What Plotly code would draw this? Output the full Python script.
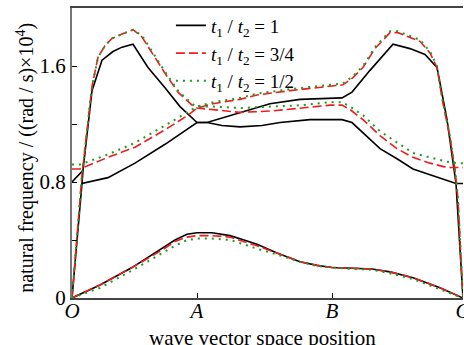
import plotly.graph_objects as go

# path coordinate along the wave-vector path (O -> A -> B -> C)
tick_pos = [0, 125, 260, 390.6]
tick_lab = ["<i>O</i>", "<i>A</i>", "<i>B</i>", "<i>C</i>"]

# ---- t1/t2 = 1 (black) ----
k_b1 = [0, 28, 60, 90, 103, 115, 125, 140, 158, 172, 185, 205, 228, 245, 260, 280, 300, 318, 341, 368, 391]
f_b1 = [0, 0.09, 0.21, 0.34, 0.40, 0.44, 0.45, 0.45, 0.43, 0.40, 0.37, 0.31, 0.25, 0.225, 0.21, 0.205, 0.20, 0.18, 0.14, 0.07, 0]

k_b2 = [0, 10, 36, 63, 93, 125, 135, 168, 198, 228, 258, 270, 280, 298, 321, 338, 353, 365, 375, 384, 391]
f_b2 = [0, 0.79, 0.83, 0.93, 1.06, 1.21, 1.21, 1.28, 1.34, 1.37, 1.38, 1.38, 1.42, 1.57, 1.75, 1.72, 1.68, 1.59, 1.23, 0.79, 0]

k_b3 = [0, 11, 20, 30, 41, 50, 61, 76, 93, 108, 125, 135, 150, 168, 190, 208, 238, 258, 270, 280, 291, 308, 325, 341, 358, 378, 384, 391]
f_b3 = [0.80, 0.88, 1.43, 1.64, 1.70, 1.73, 1.75, 1.59, 1.45, 1.32, 1.21, 1.21, 1.19, 1.18, 1.19, 1.21, 1.23, 1.23, 1.23, 1.21, 1.14, 1.03, 0.96, 0.89, 0.85, 0.80, 0.79, 0.79]

k_b4 = [10, 11]
f_b4 = [0.79, 0.88]

# ---- t1/t2 = 3/4 (red) ----
k_r1 = k_b1
f_r1 = [0, 0.09, 0.21, 0.33, 0.39, 0.42, 0.43, 0.43, 0.42, 0.39, 0.36, 0.31, 0.25, 0.225, 0.21, 0.205, 0.20, 0.18, 0.14, 0.07, 0]

k_r2 = [0, 10, 20, 26, 33, 40, 50, 61, 70, 83, 93, 106, 120, 125, 141, 168, 200, 230, 258, 270, 278, 291, 308, 325, 341, 358, 375, 385, 391]
f_r2 = [0, 0.85, 1.46, 1.66, 1.74, 1.79, 1.82, 1.85, 1.80, 1.66, 1.55, 1.42, 1.33, 1.31, 1.30, 1.28, 1.29, 1.31, 1.33, 1.33, 1.30, 1.23, 1.12, 1.03, 0.97, 0.93, 0.90, 0.90, 0.90]

k_r3 = [0, 8, 36, 63, 93, 116, 125, 141, 168, 185, 218, 258, 271, 281, 291, 303, 318, 326, 348, 358, 365, 371, 378, 383, 386, 391]
f_r3 = [0.89, 0.89, 0.97, 1.04, 1.16, 1.26, 1.31, 1.34, 1.37, 1.40, 1.43, 1.46, 1.47, 1.52, 1.59, 1.72, 1.83, 1.83, 1.77, 1.69, 1.59, 1.34, 1.11, 0.88, 0.68, 0]

# ---- t1/t2 = 1/2 (green) ----
k_g1 = k_b1
f_g1 = [0, 0.07, 0.19, 0.31, 0.36, 0.40, 0.41, 0.41, 0.40, 0.37, 0.34, 0.30, 0.25, 0.22, 0.21, 0.20, 0.195, 0.17, 0.13, 0.06, 0]

k_g2 = k_r2
f_g2 = [0, 0.85, 1.46, 1.66, 1.74, 1.79, 1.82, 1.85, 1.81, 1.67, 1.56, 1.43, 1.34, 1.32, 1.32, 1.31, 1.32, 1.33, 1.35, 1.35, 1.32, 1.26, 1.15, 1.07, 1.00, 0.97, 0.94, 0.93, 0.93]

k_g3 = k_r3
f_g3 = [0.92, 0.92, 0.99, 1.07, 1.19, 1.28, 1.32, 1.35, 1.38, 1.41, 1.44, 1.47, 1.48, 1.53, 1.60, 1.73, 1.84, 1.84, 1.78, 1.70, 1.60, 1.35, 1.12, 0.89, 0.69, 0]

names = ["<i>t</i><sub>1</sub> / <i>t</i><sub>2</sub> = 1",
         "<i>t</i><sub>1</sub> / <i>t</i><sub>2</sub> = 3/4",
         "<i>t</i><sub>1</sub> / <i>t</i><sub>2</sub> = 1/2"]

x_title = "wave vector space position"
y_title = "natural frequency / ((rad / s)×10<sup>4</sup>)"


def join(*pairs):
    xs, ys = [], []
    for kx, fy in pairs:
        if xs:
            xs.append(None)
            ys.append(None)
        xs += list(kx)
        ys += list(fy)
    return xs, ys


fig = go.Figure()

xb, yb = join((k_b1, f_b1), (k_b2, f_b2), (k_b3, f_b3), (k_b4, f_b4))
xr, yr = join((k_r1, f_r1), (k_r2, f_r2), (k_r3, f_r3))
xg, yg = join((k_g1, f_g1), (k_g2, f_g2), (k_g3, f_g3))

fig.add_trace(go.Scatter(x=xb, y=yb, mode="lines", name=names[0],
                         line=dict(color="black", width=1.6)))
fig.add_trace(go.Scatter(x=xr, y=yr, mode="lines", name=names[1],
                         line=dict(color="#ee1c1c", width=1.6, dash="9px,4px")))
fig.add_trace(go.Scatter(x=xg, y=yg, mode="lines", name=names[2],
                         line=dict(color="#1e9a1e", width=2, dash="2px,5px")))

serif = "Liberation Serif"

fig.update_layout(
    width=464, height=345,
    margin=dict(l=72, r=1, t=8, b=47),
    paper_bgcolor="white", plot_bgcolor="white",
    font=dict(family=serif, color="black", size=19),
    showlegend=True,
    legend=dict(x=0.253, y=1.005, xanchor="left", yanchor="top",
                bgcolor="rgba(0,0,0,0)", font=dict(size=19, family=serif),
                tracegroupgap=0),
    xaxis=dict(range=[0, 391], tickvals=tick_pos, ticktext=tick_lab,
               ticks="inside", ticklen=5, tickcolor="black",
               showgrid=False, zeroline=False, showline=True,
               linecolor="#444", linewidth=1.5, mirror=True,
               automargin=False, ticklabeloverflow="allow",
               ticklabelstandoff=-7,
               tickfont=dict(size=21, family=serif)),
    yaxis=dict(range=[0, 2.0], tickvals=[0, 0.4, 0.8, 1.2, 1.6],
               ticktext=["0", "", "0.8", "", "1.6"],
               ticks="inside", ticklen=5, tickcolor="black",
               showgrid=False, zeroline=False, showline=True,
               linecolor="#777", linewidth=2,
               automargin=False,
               tickfont=dict(size=21, family=serif)),
    annotations=[
        dict(text=x_title, xref="paper", yref="paper", x=0.486, y=-0.138,
             xanchor="center", yanchor="middle", showarrow=False,
             font=dict(size=21, family=serif, color="black")),
        dict(text=y_title, xref="paper", yref="paper", x=-0.118, y=0.483,
             xanchor="center", yanchor="middle", showarrow=False, textangle=-90,
             font=dict(size=20, family=serif, color="black")),
    ],
)

fig.write_html("out.html")
